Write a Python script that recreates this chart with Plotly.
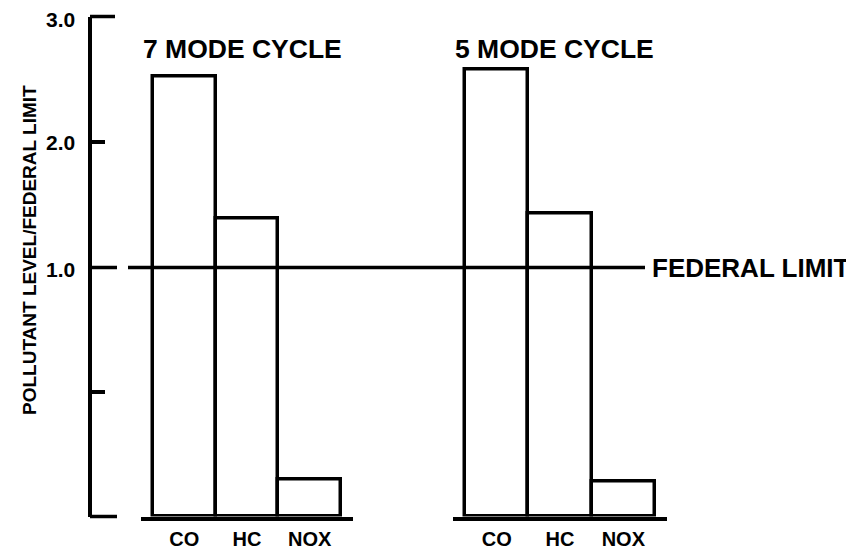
import plotly.graph_objects as go

# ---- data (ratio of pollutant level to the federal limit)
POLLUTANTS = ["CO", "HC", "NOX"]
CYCLES = ["7 MODE CYCLE", "5 MODE CYCLE"]
RATIO_7MODE = [2.52, 1.39, 0.15]
RATIO_5MODE = [2.58, 1.43, 0.14]
FEDERAL_LIMIT = 1.0
LOWER_TICKS = [0, 0.5]            # lower part of the axis (0 .. 1)
UPPER_TICKS = [1, 2, 3]           # upper part of the axis (1 .. 3)
UPPER_LABELS = ["1.0", "2.0", "3.0"]

INK = "black"
LW = 3.5
PAGE = 8                          # default body margin of the html page
W, H = 854 - PAGE, 553 - PAGE
FONT = "Liberation Sans, Arial, sans-serif"
TICKFONT = dict(family=FONT, size=21, color=INK, weight="bold")


def px(x):
    return (x - PAGE) / W


def py(y):
    return 1 - (y - PAGE) / H


# y axis is drawn in two pieces: 0..1 gets the same height as 1..3
Y_LOW = [py(516.5), py(267.5)]
Y_HIGH = [py(267.5), py(16.5)]
Y_POS = px(90)
X_DOMAINS = [[px(141), px(353)], [px(453), px(667)]]
X_RANGE = [-0.69, 2.69]

fig = go.Figure()
for xa, vals in zip(["x", "x2"], [RATIO_7MODE, RATIO_5MODE]):
    for ya in ["y", "y2"]:
        fig.add_trace(go.Bar(
            x=POLLUTANTS, y=vals, xaxis=xa, yaxis=ya, width=1,
            marker=dict(color="white", line=dict(color=INK, width=LW)),
            showlegend=False, hoverinfo="skip"))

xax = dict(anchor="y", range=X_RANGE, showline=True, linecolor=INK,
           linewidth=LW, ticks="", showgrid=False, zeroline=False,
           automargin=False, ticklabelstandoff=2,
           ticklabeloverflow="allow",
           tickfont=dict(family=FONT, size=20, color=INK, weight="bold"))
yax = dict(anchor="free", position=Y_POS, showline=True, linecolor=INK,
           linewidth=LW, showgrid=False, zeroline=False, ticks="",
           showticklabels=False, automargin=False)
short_tick = dict(ticks="inside", ticklen=13, tickwidth=LW, tickcolor=INK)

fig.update_layout(
    width=W, height=H,
    margin=dict(l=0, r=0, t=0, b=0),
    paper_bgcolor="white", plot_bgcolor="rgba(0,0,0,0)",
    bargap=0,
    xaxis=dict(domain=X_DOMAINS[0], **xax),
    xaxis2=dict(domain=X_DOMAINS[1], **xax),
    yaxis=dict(domain=Y_LOW, range=[0, 1],
               minor=dict(tickvals=[LOWER_TICKS[1]], **short_tick), **yax),
    yaxis2=dict(domain=Y_HIGH, range=[1, 3],
                minor=dict(tickvals=[UPPER_TICKS[1]], **short_tick), **yax),
)

# long ticks at 0, 1.0 and 3.0 (plotly drops inside ticks at range ends)
for yy, x1 in [(Y_LOW[0], 117), (Y_HIGH[0], 117), (Y_HIGH[1], 115)]:
    fig.add_shape(type="line", xref="paper", yref="paper",
                  x0=Y_POS, x1=px(x1), y0=yy, y1=yy,
                  line=dict(color=INK, width=LW))

# y tick labels
for val, lab, dy in zip(UPPER_TICKS, UPPER_LABELS, [-2, 0, -3]):
    fig.add_annotation(xref="paper", yref="y2", x=px(77), y=val, yshift=dy,
                       xanchor="right", yanchor="middle", showarrow=False,
                       text=lab, font=TICKFONT)

# federal limit line (paper coords so it is not clipped at the y2 edge)
fig.add_shape(type="line", xref="paper", yref="paper",
              x0=px(128), x1=px(645), y0=Y_HIGH[0], y1=Y_HIGH[0],
              line=dict(color=INK, width=3.5), layer="above")
fig.add_annotation(xref="paper", yref="y2", x=px(650), y=FEDERAL_LIMIT,
                   xanchor="left", yanchor="middle", showarrow=False,
                   text="FEDERAL LIMIT",
                   font=dict(family=FONT, size=26, color=INK, weight="bold"))

# cycle titles
for xa, name in zip(["x", "x2"], CYCLES):
    fig.add_annotation(xref=xa + " domain", yref="paper", x=0, y=py(49),
                       xanchor="left", yanchor="middle", showarrow=False,
                       text=name,
                       font=dict(family=FONT, size=26.5, color=INK,
                                 weight="bold"))

# y axis title
fig.add_annotation(xref="paper", yref="paper", x=px(29), y=py(250),
                   xanchor="center", yanchor="middle", showarrow=False,
                   textangle=-90, text="POLLUTANT LEVEL/FEDERAL LIMIT",
                   font=dict(family=FONT, size=19, color=INK, weight="bold"))

fig.write_html("out.html")
